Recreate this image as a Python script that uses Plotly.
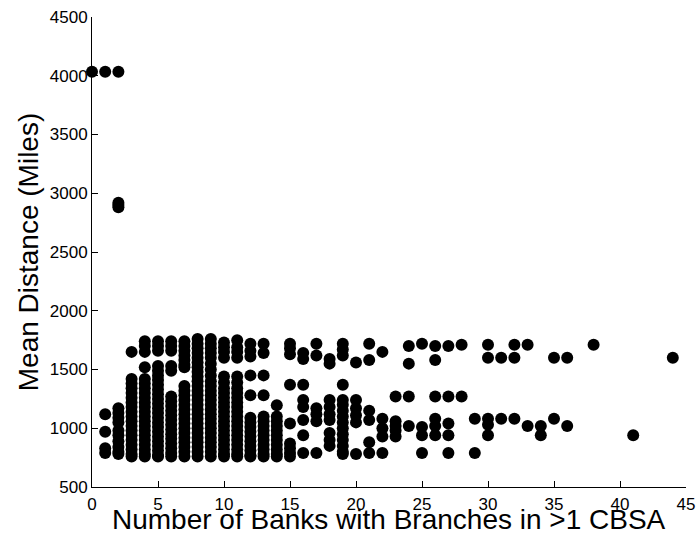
import plotly.graph_objects as go

# Mean distance (miles) observed for each number of banks with branches in >1 CBSA
y_b0 = [4035]
y_b1 = [4035, 1120, 970, 830, 790]
y_b2 = [4035, 2920, 2900, 2880, 1170, 1130, 1090, 1050, 980, 940, 890, 840, 800, 780]
y_b3 = [1650, 1420, 1380, 1340, 1300, 1260, 1220, 1180, 1140, 1100, 1060, 1020,
        980, 940, 900, 860, 820, 780, 760]
y_b4 = [1740, 1700, 1650, 1520, 1420, 1380, 1340, 1300, 1260, 1220, 1180, 1140,
        1100, 1060, 1020, 980, 940, 900, 860, 820, 780, 760]
y_b5 = [1740, 1700, 1660, 1530, 1490, 1450, 1410, 1370, 1330, 1290, 1250, 1210,
        1170, 1130, 1090, 1050, 1010, 970, 930, 890, 850, 810, 770, 760]
y_b6 = [1740, 1700, 1660, 1530, 1490, 1270, 1230, 1190, 1150, 1110, 1070, 1030,
        990, 950, 910, 870, 830, 790, 760]
y_b7 = [1740, 1700, 1660, 1620, 1580, 1540, 1520, 1360, 1320, 1280, 1240, 1200,
        1160, 1120, 1080, 1040, 1000, 960, 920, 880, 840, 800, 760]
y_b8 = [1760, 1720, 1680, 1640, 1600, 1560, 1520, 1480, 1440, 1400, 1360, 1320,
        1280, 1240, 1200, 1160, 1120, 1080, 1040, 1000, 960, 920, 880, 840, 800, 760]
y_b9 = [1760, 1720, 1680, 1640, 1600, 1550, 1500, 1450, 1400, 1360, 1320, 1280,
        1240, 1200, 1160, 1120, 1080, 1040, 1000, 960, 920, 880, 840, 800, 760]
y_b10 = [1730, 1690, 1650, 1600, 1440, 1390, 1340, 1300, 1260, 1220, 1180, 1140,
         1100, 1060, 1020, 980, 940, 900, 860, 820, 780, 760]
y_b11 = [1750, 1690, 1650, 1600, 1440, 1390, 1340, 1300, 1260, 1220, 1180, 1140,
         1100, 1060, 1020, 980, 940, 900, 860, 820, 780, 760]
y_b12 = [1720, 1660, 1610, 1450, 1280, 1090, 1050, 1010, 970, 930, 890, 850, 810, 770, 760]
y_b13 = [1720, 1640, 1450, 1280, 1100, 1060, 1020, 980, 940, 900, 860, 820, 780, 760]
y_b14 = [1195, 1100, 1060, 1020, 980, 940, 900, 860, 820, 780, 760]
y_b15 = [1720, 1680, 1630, 1370, 1040, 870, 830, 790, 760]
y_b16 = [1640, 1590, 1370, 1240, 1180, 1070, 940, 790]
y_b17 = [1720, 1620, 1170, 1120, 1060, 790]
y_b18 = [1590, 1550, 1240, 1180, 1120, 1070, 960, 900, 850]
y_b19 = [1720, 1670, 1620, 1370, 1240, 1200, 1150, 1100, 1050, 1000, 950, 900, 850, 800, 780]
y_b20 = [1560, 1240, 1170, 1110, 1050, 780]
y_b21 = [1720, 1580, 1150, 1070, 880, 790]
y_b22 = [1650, 1080, 1000, 930, 790]
y_b23 = [1270, 1060, 1020, 980, 930]
y_b24 = [1700, 1550, 1270, 1020]
y_b25 = [1720, 1010, 940, 790]
y_b26 = [1700, 1580, 1270, 1080, 1020, 940]
y_b27 = [1700, 1270, 1040, 940, 790]
y_b28 = [1710, 1270]
y_b29 = [1080, 790]
y_b30 = [1710, 1600, 1080, 1030, 940]
y_b31 = [1600, 1080]
y_b32 = [1710, 1600, 1080]
y_b33 = [1710, 1020]
y_b34 = [1020, 940]
y_b35 = [1600, 1080]
y_b36 = [1600, 1020]
y_b38 = [1710]
y_b41 = [940]
y_b44 = [1600]

bank_counts = [0, 1, 2, 3, 4, 5, 6, 7, 8, 9, 10, 11, 12, 13, 14, 15, 16, 17, 18, 19,
               20, 21, 22, 23, 24, 25, 26, 27, 28, 29, 30, 31, 32, 33, 34, 35, 36, 38, 41, 44]
distance_columns = [y_b0, y_b1, y_b2, y_b3, y_b4, y_b5, y_b6, y_b7, y_b8, y_b9, y_b10,
                    y_b11, y_b12, y_b13, y_b14, y_b15, y_b16, y_b17, y_b18, y_b19,
                    y_b20, y_b21, y_b22, y_b23, y_b24, y_b25, y_b26, y_b27, y_b28,
                    y_b29, y_b30, y_b31, y_b32, y_b33, y_b34, y_b35, y_b36, y_b38,
                    y_b41, y_b44]

x_ticks = [0, 5, 10, 15, 20, 25, 30, 35, 40, 45]
y_ticks = [500, 1000, 1500, 2000, 2500, 3000, 3500, 4000, 4500]
x_title = "Number of Banks with Branches in >1 CBSA"
y_title = "Mean Distance (Miles)"

xs, ys = [], []
for b, col in zip(bank_counts, distance_columns):
    for v in col:
        xs.append(b)
        ys.append(v)

fig = go.Figure(go.Scatter(
    x=xs, y=ys, mode="markers", cliponaxis=False,
    marker=dict(size=12, color="black", line=dict(width=0)),
    hoverinfo="skip",
))

font_family = "Liberation Sans, Arial, Helvetica, sans-serif"
axis_common = dict(
    showgrid=False, zeroline=False, showline=True, linecolor="black", linewidth=1,
    ticks="inside", ticklen=6, tickwidth=1, tickcolor="black",
    tickfont=dict(size=17, color="black", family=font_family),
    mirror=False, automargin=False,
)
fig.update_layout(
    width=699, height=544,
    margin=dict(l=92, r=13, t=17, b=57, autoexpand=False),
    paper_bgcolor="white", plot_bgcolor="white",
    showlegend=False,
    font=dict(family=font_family, color="black"),
    xaxis=dict(range=[0, 45], tickvals=x_ticks, ticklabelstandoff=2, **axis_common),
    yaxis=dict(range=[500, 4500], tickvals=y_ticks,
               title=dict(text=y_title, font=dict(size=28, color="black"), standoff=2),
               **axis_common),
    annotations=[dict(
        text=x_title, xref="paper", yref="paper", x=0.5, y=-32 / 470,
        xanchor="center", yanchor="middle", showarrow=False,
        font=dict(size=28, color="black", family=font_family),
    )],
)
fig.write_html("out.html", config={"displayModeBar": False},
               post_script="document.body.style.margin='0';")
